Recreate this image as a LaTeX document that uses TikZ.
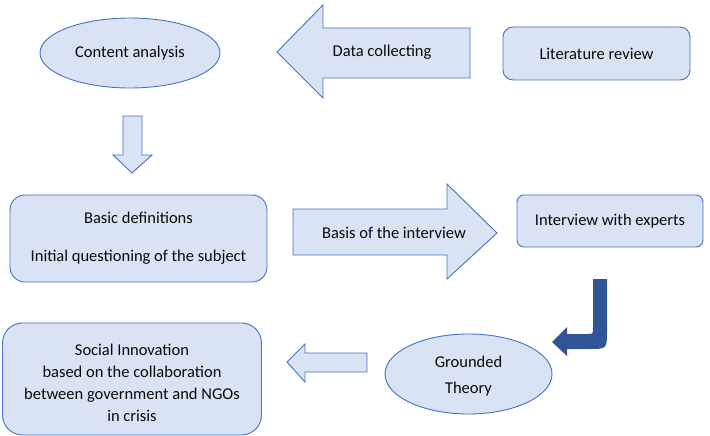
\documentclass[tikz,border=0pt]{standalone}
\usepackage{fontspec}
\setmainfont{Carlito}
\usetikzlibrary{shapes.geometric}

\definecolor{flfill}{RGB}{218,227,243}
\definecolor{fldraw}{RGB}{68,114,196}
\definecolor{fldark}{RGB}{47,85,151}
\definecolor{fltext}{RGB}{10,10,10}

\begin{document}
\begin{tikzpicture}[
  x=1pt,
  y=-1pt,
  every node/.style={inner sep=0pt, outer sep=0pt},
  txt/.style={font=\fontsize{16.5}{20}\selectfont, text=fltext, align=center},
  oval/.style={ellipse, draw=fldraw, fill=flfill, line width=0.9pt, txt},
  rbox/.style={rectangle, draw=fldraw, fill=flfill, line width=0.9pt, txt},
  blockarrow/.style={draw=fldraw, fill=flfill, line width=0.9pt, line join=miter},
  darkarrow/.style={fill=fldark, draw=none}
]

  \path[use as bounding box] (0,0) rectangle (710,436);

  % Top row
  \node[oval, minimum width=180, minimum height=70] (content) at (130,53) {Content analysis};

  \draw[blockarrow] (277,52) -- (323,5) -- (323,28) -- (470,28) -- (470,78)
    -- (323,78) -- (323,98) -- cycle;
  \node[txt] (collect) at (382,52) {Data collecting};

  \node[rbox, rounded corners=10pt, minimum width=187, minimum height=53] (review) at (596.5,53.5) {Literature review};

  % Down arrow
  \draw[blockarrow] (123,116) -- (142,116) -- (142,155) -- (152,155) -- (132,173)
    -- (113,155) -- (123,155) -- cycle;

  % Middle row
  \node[rbox, rounded corners=15pt, minimum width=257, minimum height=87] (basic) at (138.5,238.5)
    {Basic definitions\\[18pt]Initial questioning of the subject};

  \draw[blockarrow] (293,209) -- (447,209) -- (447,184) -- (497,233) -- (447,279)
    -- (447,255) -- (293,255) -- cycle;
  \node[txt] (basis) at (394,233) {Basis of the interview};

  \node[rbox, rounded corners=7pt, minimum width=186, minimum height=52] (expert) at (610,221) {Interview with experts};

  % Bent arrow
  \path[darkarrow] (593,279) -- (607,279) -- (607,331) .. controls (607,349) .. (589,349)
    -- (567,349) -- (567,356) -- (552,342) -- (567,327) -- (567,334) -- (587,334)
    .. controls (593,334) .. (593,328) -- cycle;

  % Bottom row
  \node[oval, minimum width=167, minimum height=80] (theory) at (468.5,374) {};
  \node[txt, font=\fontsize{16.5}{26}\selectfont] (theorytxt) at (468.5,376) {Grounded\\Theory};

  \draw[blockarrow] (287,362) -- (305,344) -- (305,353) -- (367,353) -- (367,372)
    -- (305,372) -- (305,382) -- cycle;

  \node[rbox, rounded corners=20pt, minimum width=259, minimum height=112] (social) at (132,379) {};
  \node[txt, font=\fontsize{16.5}{22}\selectfont] (socialtxt) at (132,383)
    {Social Innovation\\based on the collaboration\\between government and NGOs\\in crisis};

\end{tikzpicture}
\end{document}
